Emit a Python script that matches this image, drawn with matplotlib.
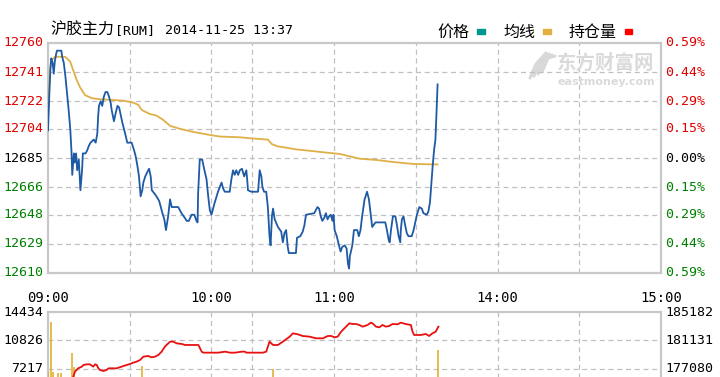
import matplotlib
matplotlib.use('Agg')
import matplotlib.pyplot as plt
from matplotlib.patches import Rectangle
from matplotlib.lines import Line2D
import matplotlib.transforms as mtransforms

# ---------------- data (x = trading minutes since 09:00 open) ----------------
price_min = [0, 0.5, 0.9, 1.2, 1.7, 2.1, 2.5, 3.0, 3.3, 4.9, 5.2, 5.8, 6.4, 7.0, 7.6, 8.2, 8.6, 8.9, 9.5, 9.8,
             10.3, 10.7, 11.3, 11.9, 12.5, 12.8, 13.8, 14.4, 15.0, 15.6, 16.2, 16.8, 17.5, 18.1, 18.4, 18.7, 19.3,
             19.9, 20.5, 21.1, 21.8, 22.4, 23.0, 23.4, 24.2, 24.8, 25.5, 26.1, 26.7, 27.3, 28.3, 29.1, 30.7, 31.6,
             32.2, 32.8, 33.4, 34.0, 34.6, 35.0, 35.7, 36.5, 37.1, 37.7, 38.1, 39.0, 39.8, 40.8, 42.0, 42.7, 43.3,
             44.1, 44.8, 45.4, 47.8, 49.0, 50.2, 50.9, 51.7, 52.7, 53.7, 54.5, 54.9, 55.1, 55.7, 56.6, 57.3, 58.2,
             58.8, 59.4, 60.0, 60.6, 61.2, 62.4, 63.7, 64.3, 64.9, 66.7, 67.3, 67.9, 68.5, 69.1, 69.8, 70.4, 71.2,
             72.0, 72.8, 73.2, 73.4, 74.6, 77.1, 77.7, 78.3, 78.7, 79.3, 80.1, 80.7, 81.3, 81.7, 82.2, 82.6, 83.2,
             84.4, 85.6, 86.2, 86.8, 87.4, 88.0, 88.4,
             91.0, 91.4, 92.6, 93.5, 94.1, 94.7, 97.7, 98.9, 99.5, 100.1, 100.7, 101.4, 102.0, 102.6, 103.2, 103.8,
             104.4, 104.8, 105.2, 106.0, 106.8, 107.4, 108.0, 108.9, 109.6, 110.1, 110.5, 110.8, 111.7, 112.3,
             113.5, 114.1, 114.7, 115.3, 116.2, 117.1, 117.8, 118.4, 119.0, 120.2, 123.8, 124.4, 125.0, 125.4,
             125.9, 126.6, 127.5, 128.1, 128.7, 129.3, 129.5, 129.9, 130.5, 131.1, 131.7, 132.3, 133.5, 134.2,
             134.8, 135.4, 136.3, 137.2, 137.8, 139.0, 139.6, 140.2, 140.6, 141.2, 141.7, 142.2, 142.5, 142.8, 143.0]
price_val = [12703, 12727, 12744, 12750, 12747, 12740, 12748, 12753, 12755, 12755, 12751, 12747, 12738, 12727,
             12716, 12703, 12690, 12674, 12688, 12682, 12688, 12677, 12684, 12664, 12677, 12688, 12688, 12690,
             12693, 12695, 12696, 12697, 12695, 12701, 12712, 12719, 12722, 12719, 12725, 12728, 12728, 12725,
             12721, 12716, 12709, 12714, 12719, 12718, 12713, 12708, 12701, 12695, 12695, 12690, 12686, 12680,
             12673, 12660, 12664, 12669, 12673, 12676, 12678, 12673, 12664, 12662, 12660, 12657, 12649, 12645,
             12638,
             12647, 12658, 12653, 12653, 12649, 12646, 12644, 12644, 12648, 12648, 12644, 12643, 12662, 12684,
             12684, 12678, 12671, 12660, 12651, 12648, 12652, 12656, 12663, 12669, 12665, 12663, 12663, 12671,
             12677, 12674, 12677, 12674, 12677, 12678, 12673, 12677, 12669, 12664, 12663, 12663, 12677, 12673,
             12666, 12663, 12663, 12653, 12634, 12628, 12647, 12652, 12645, 12640, 12637, 12630, 12636, 12638,
             12627, 12623,
             12623, 12633, 12634, 12637, 12641, 12648, 12649, 12653, 12652, 12647, 12644, 12646, 12649, 12645,
             12647, 12648, 12644, 12648, 12638, 12634, 12628, 12624, 12627, 12628, 12626, 12616, 12613, 12621,
             12628, 12638, 12638, 12634, 12638, 12647, 12658, 12663, 12658, 12649, 12640, 12643, 12643, 12638,
             12632, 12630, 12638, 12647, 12647, 12641, 12634, 12630, 12638, 12645, 12647, 12641, 12636, 12634,
             12634, 12638, 12643, 12648, 12653, 12652, 12649, 12648, 12650, 12656, 12666, 12680, 12690, 12697,
             12710, 12725, 12733]

avg_min = [0, 0.7, 1.4, 2.6, 6.3, 8.1, 9.3, 10.5, 11.8, 13.6, 16.1, 19.1, 24.0, 27.6, 31.3, 33.2, 34.4, 37.4,
           39.9, 42.3, 44.8, 48.5, 53.3, 59.5, 63.1, 70.5, 74.5, 80.7, 82.2, 84.5, 87.6, 90.7, 95.6, 102.3, 107.2,
           110.9, 114.5, 120.7, 125.6, 134.1, 143.0]
avg_val = [12716, 12742, 12749, 12751, 12751, 12748, 12742, 12736, 12731, 12726, 12724, 12723.3, 12722.8,
           12722.4, 12721.1, 12719.6, 12716.3, 12713.7, 12712.6, 12709.8, 12706, 12704, 12702, 12700, 12699,
           12698.5, 12697.8, 12697, 12694, 12692.5, 12691.7, 12690.7, 12689.8, 12688.5, 12687.6, 12686, 12684.5,
           12683.7, 12682.6, 12681.1, 12680.8]

oi_min = [8.8, 9.3, 9.9, 11.1, 12.4, 13.0, 14.2, 15.4, 16.6, 17.3, 17.9, 18.5, 19.1, 20.3, 21.5, 22.2, 23.4,
          25.2, 27.0, 28.9, 30.1, 31.3, 32.5, 33.8, 35.0, 36.8, 38.0, 39.3, 40.5, 41.7, 42.9, 44.8, 46.0, 47.2,
          49.1, 50.3, 51.5, 53.4, 55.2, 56.4, 57.0, 60.1, 62.5, 65.0, 66.8, 68.7, 71.1, 72.3, 72.8, 75.2, 78.9,
          80.1, 81.3, 82.6, 84.4, 86.2, 88.7, 89.9, 91.7, 93.5, 96.0, 98.4, 100.9, 102.7, 104.0, 105.1, 106.3,
          107.6, 109.4, 110.6, 111.8, 113.0, 114.3, 115.5, 117.3, 118.5, 119.1, 120.4, 121.6, 122.8, 124.0,
          125.2, 126.5, 128.3, 129.5, 131.3, 133.2, 133.8, 134.4, 136.8, 138.7, 139.9, 141.1, 142.3, 143.3]
oi_val = [175500, 175993, 176703, 177177, 177414, 177651, 177745, 177745, 177414, 177745, 177651, 177177,
          176940, 176798, 176940, 177177, 177177, 177177, 177414, 177651, 177793, 177982, 178124, 178361,
          178835, 178930, 178740, 178835, 179072, 179545, 180256, 180966, 180966, 180729, 180635, 180493,
          180493, 180493, 180493, 179545, 179403, 179403, 179403, 179545, 179403, 179403, 179545, 179545,
          179403, 179403, 179403, 179545, 180966, 180493, 180493, 180966, 181677, 182150, 182009, 181772,
          181677, 181440, 181440, 181772, 181772, 181582, 181677, 182388, 183098, 183572, 183477, 183477,
          183335, 183098, 183335, 183667, 183572, 183098, 183003, 183335, 183098, 183193, 183477, 183430,
          183667, 183477, 183335, 182388, 181914, 181914, 182056, 181772, 182150, 182388, 183098]

vol_min = [0, 1.1, 2.0, 3.5, 4.8, 8.9, 9.7, 34.4, 82.6, 143.3]
vol_val = [7000, 13206, 6880, 6750, 6650, 9282, 7509, 7598, 7180, 9623]

price_ticks = [12760, 12741, 12722, 12704, 12685, 12666, 12648, 12629, 12610]
pct_labels = ['0.59%', '0.44%', '0.29%', '0.15%', '0.00%', '0.15%', '0.29%', '0.44%', '0.59%']
vol_ticks = [14434, 10826, 7217, 3608, 0]
oi_ticks = [185182, 181131, 177080, 173029, 168978]
time_pos = [0, 60, 105, 165, 225]
time_labels = ['09:00', '10:00', '11:00', '14:00', '15:00']
grid_min = [30, 60, 75, 105, 135, 165, 195]

title_cn = '沪胶主力'
title_code = '[RUM]'
title_time = '2014-11-25 13:37'
legend_items = [('价格', '#00968c'), ('均线', '#e0b040'), ('持仓量', '#ff0000')]

# ---------------- styling ----------------
W, H = 720, 377
RED, GREEN, BLACK = '#e00000', '#008000', '#000000'
GRID = '#c0c0c0'
SPINE = '#c8c8c8'
MONO = 'DejaVu Sans Mono'
CJK = 'Noto Sans CJK SC'

fig = plt.figure(figsize=(7.2, 3.77), dpi=100)
fig.patch.set_facecolor('white')


def fx(px):
    return px / W


def fy(py):
    return 1 - py / H


L, R = 48, 661
dash = (0, (4, 3))

# ---------------- watermark (behind everything) ----------------
fig.text(fx(557), fy(63), '东方财富网', family=CJK, fontsize=14, fontweight='bold',
         color='#dadada', va='center', ha='left', zorder=0)
fig.text(fx(558), fy(82), 'eastmoney.com', family='DejaVu Sans', fontsize=8, fontweight='bold',
         color='#dadada', va='center', ha='left', zorder=0)
for k in range(4):
    xs = [fx(530 + 4 * k), fx(536 + 4 * k), fx(546 + 3 * k)]
    ys = [fy(78 - 2 * k), fy(64 - 2 * k), fy(53 + k)]
    fig.add_artist(Line2D(xs, ys, color='#d8d8d8', lw=2.2, transform=fig.transFigure,
                          solid_capstyle='round', zorder=0))

# ---------------- price panel ----------------
ax = fig.add_axes([fx(L), fy(273), (R - L) / W, 230 / H])
ax.patch.set_alpha(0)
ax.set_xlim(0, 225)
ax.set_ylim(price_ticks[-1], price_ticks[0])
ax.set_xticks([])
ax.set_yticks([])
for s in ax.spines.values():
    s.set_color(SPINE)
    s.set_linewidth(1.6)
for v in price_ticks[1:-1]:
    ax.axhline(v, color=GRID, lw=0.9, ls=dash, zorder=1)
for g in grid_min:
    ax.axvline(g, color=GRID, lw=0.9, ls=dash, zorder=1)

ax.plot(avg_min, avg_val, color='#e0b048', lw=1.3, zorder=3)
ax.plot(price_min, price_val, color='#1e5aa5', lw=1.3, zorder=4)

tr = mtransforms.blended_transform_factory(ax.transAxes, ax.transData)
n = len(price_ticks)
for i, (v, p) in enumerate(zip(price_ticks, pct_labels)):
    c = RED if i < n // 2 else (BLACK if i == n // 2 else GREEN)
    ax.text(-5 / 613, v, str(v), transform=tr, ha='right', va='center',
            fontsize=9.5, family=MONO, color=c)
    ax.text(1 + 4 / 613, v, p, transform=tr, ha='left', va='center',
            fontsize=9.5, family=MONO, color=c)

trx = mtransforms.blended_transform_factory(ax.transData, ax.transAxes)
for pos, lab in zip(time_pos, time_labels):
    ax.text(pos, -(297.5 - 273) / 230, lab, transform=trx, ha='center', va='center',
            fontsize=10, family=MONO, color=BLACK)

# ---------------- volume / open-interest panel ----------------
ax2 = fig.add_axes([fx(L), fy(426), (R - L) / W, 114 / H])
ax2.set_xlim(0, 225)
ax2.set_ylim(0, vol_ticks[0])
ax2.set_xticks([])
ax2.set_yticks([])
for s in ax2.spines.values():
    s.set_color(SPINE)
    s.set_linewidth(1.6)
for v in vol_ticks[1:-1]:
    ax2.axhline(v, color=GRID, lw=0.9, ls=dash, zorder=1)
for g in grid_min:
    ax2.axvline(g, color=GRID, lw=0.9, ls=dash, zorder=1)
ax2.vlines(vol_min, 0, vol_val, color='#e0b030', lw=1.2, zorder=3)

ax2r = ax2.twinx()
ax2r.set_ylim(oi_ticks[-1], oi_ticks[0])
ax2r.set_yticks([])
for s in ax2r.spines.values():
    s.set_visible(False)
ax2r.plot(oi_min, oi_val, color='#e81010', lw=1.3, zorder=4)

# only the labels that fall inside the visible (cropped) picture
tr2 = mtransforms.blended_transform_factory(ax2.transAxes, ax2.transData)
tr2r = mtransforms.blended_transform_factory(ax2r.transAxes, ax2r.transData)
for v in vol_ticks[:3]:
    ax2.text(-5 / 613, v, str(v), transform=tr2, ha='right', va='center',
             fontsize=9.5, family=MONO, color=BLACK)
for v in oi_ticks[:3]:
    ax2r.text(1 + 4 / 613, v, str(v), transform=tr2r, ha='left', va='center',
              fontsize=9.5, family=MONO, color=BLACK)

# ---------------- header ----------------
fig.text(fx(50), fy(30), title_cn, family=CJK, fontsize=11.5, va='center', ha='left')
fig.text(fx(115), fy(30.5), title_code, family=MONO, fontsize=9.6, va='center', ha='left')
fig.text(fx(165), fy(30.5), title_time, family=MONO, fontsize=9.6, va='center', ha='left')

leg_x = [437, 503, 569]
for (lab, col), x0 in zip(legend_items, leg_x):
    fig.text(fx(x0), fy(32), lab, family=CJK, fontsize=11.5, va='center', ha='left')
    wchars = len(lab) * 15.5
    fig.patches.append(Rectangle((fx(x0 + wchars + 9), fy(34)), 7.5 / W, 4.5 / H,
                                 transform=fig.transFigure, color=col, zorder=5))

fig.savefig('out.png', dpi=100, facecolor='white')
